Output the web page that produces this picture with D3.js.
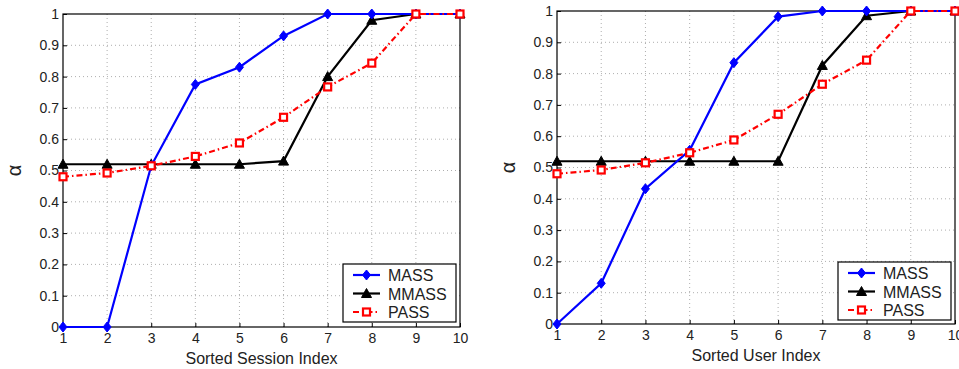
<!DOCTYPE html>
<html>
<head>
<meta charset="utf-8">
<script src="https://cdn.jsdelivr.net/npm/d3@7"></script>
<style>
  body { margin: 0; background: #fff; }
  svg { display: block; font-family: "Liberation Sans", Arial, sans-serif; }
</style>
</head>
<body>
<svg id="chart" width="959" height="369"></svg>
<script>
// x positions 1..10
var indexes = [1, 2, 3, 4, 5, 6, 7, 8, 9, 10];
var yTicks = [0, 0.1, 0.2, 0.3, 0.4, 0.5, 0.6, 0.7, 0.8, 0.9, 1];
var seriesNames = ["MASS", "MMASS", "PASS"];

// session panel
var sessionMass = [0, 0, 0.515, 0.775, 0.83, 0.93, 1, 1, 1, 1];
var sessionMmass = [0.52, 0.52, 0.52, 0.52, 0.52, 0.53, 0.80, 0.98, 1, 1];
var sessionPass = [0.48, 0.492, 0.515, 0.545, 0.588, 0.67, 0.767, 0.843, 1, 1];

// user panel
var userMass = [0, 0.13, 0.432, 0.555, 0.835, 0.982, 1, 1, 1, 1];
var userMmass = [0.52, 0.52, 0.52, 0.52, 0.52, 0.52, 0.826, 0.985, 1, 1];
var userPass = [0.48, 0.492, 0.515, 0.547, 0.588, 0.67, 0.766, 0.843, 1, 1];

var svg = d3.select("#chart");

var styles = {
  MASS: { color: "#0000ff", dash: null, marker: "diamond" },
  MMASS: { color: "#000000", dash: null, marker: "triangle" },
  PASS: { color: "#ff0000", dash: "6,3,1.5,3", marker: "square" }
};

function drawMarker(g, type, color, x, y) {
  if (type === "diamond") {
    g.append("path")
      .attr("d", "M" + x + "," + (y - 5) + "L" + (x + 4) + "," + y + "L" + x + "," + (y + 5) + "L" + (x - 4) + "," + y + "Z")
      .attr("fill", color).attr("stroke", color).attr("stroke-width", 1);
  } else if (type === "triangle") {
    g.append("path")
      .attr("d", "M" + x + "," + (y - 5) + "L" + (x + 5) + "," + (y + 4) + "L" + (x - 5) + "," + (y + 4) + "Z")
      .attr("fill", color).attr("stroke", color).attr("stroke-width", 1);
  } else {
    g.append("rect")
      .attr("x", x - 3.5).attr("y", y - 3.5).attr("width", 7).attr("height", 7)
      .attr("fill", "#fff").attr("stroke", color).attr("stroke-width", 2.2);
  }
}

function panel(opts) {
  var x = d3.scaleLinear().domain([1, 10]).range([opts.left, opts.right]);
  var y = d3.scaleLinear().domain([0, 1]).range([opts.bottom, opts.top]);
  var g = svg.append("g");

  // grid
  g.append("g").selectAll("line.vg").data(indexes.slice(1, -1)).enter().append("line")
    .attr("x1", function (d) { return x(d); }).attr("x2", function (d) { return x(d); })
    .attr("y1", opts.top).attr("y2", opts.bottom)
    .attr("stroke", "#999").attr("stroke-width", 0.8).attr("stroke-dasharray", "1,3");
  g.append("g").selectAll("line.hg").data(yTicks.slice(1, -1)).enter().append("line")
    .attr("y1", function (d) { return y(d); }).attr("y2", function (d) { return y(d); })
    .attr("x1", opts.left).attr("x2", opts.right)
    .attr("stroke", "#999").attr("stroke-width", 0.8).attr("stroke-dasharray", "1,3");

  // axes
  var xAxis = g.append("g").attr("transform", "translate(0," + opts.bottom + ")")
    .call(d3.axisBottom(x).tickValues(indexes).tickFormat(d3.format("d")).tickSizeInner(-4).tickSizeOuter(0).tickPadding(8));
  var yAxis = g.append("g").attr("transform", "translate(" + opts.left + ",0)")
    .call(d3.axisLeft(y).tickValues(yTicks).tickFormat(function (d) { return d === 0 || d === 1 ? d : d3.format(".1f")(d); }).tickSizeInner(-4).tickSizeOuter(0).tickPadding(4));
  [xAxis, yAxis].forEach(function (a) {
    a.select(".domain").remove();
    a.selectAll("line").attr("stroke", "#000");
    a.selectAll("text").attr("font-size", 14).attr("fill", "#222").attr("font-family", "Liberation Sans, Arial, sans-serif");
  });
  xAxis.selectAll("text").attr("dy", "0.55em");

  // box
  g.append("rect").attr("x", opts.left).attr("y", opts.top)
    .attr("width", opts.right - opts.left).attr("height", opts.bottom - opts.top)
    .attr("fill", "none").attr("stroke", "#000").attr("stroke-width", 1.2);

  // series
  var line = d3.line().x(function (d, i) { return x(indexes[i]); }).y(function (d) { return y(d); });
  var data = [opts.mmass, opts.mass, opts.pass];
  var names = ["MMASS", "MASS", "PASS"];
  names.forEach(function (name, k) {
    var s = styles[name];
    g.append("path").datum(data[k]).attr("d", line)
      .attr("fill", "none").attr("stroke", s.color).attr("stroke-width", 2.2)
      .attr("stroke-dasharray", s.dash);
    data[k].forEach(function (v, i) { drawMarker(g, s.marker, s.color, x(indexes[i]), y(v)); });
  });

  // labels
  g.append("text").attr("x", (opts.left + opts.right) / 2).attr("y", opts.bottom + 37)
    .attr("text-anchor", "middle").attr("font-size", 16).attr("fill", "#222").text(opts.xlabel);
  g.append("text").attr("transform", "translate(" + (opts.left - 42) + "," + ((opts.top + opts.bottom) / 2) + ") rotate(-90)")
    .attr("text-anchor", "middle").attr("font-size", 20).attr("fill", "#222").text("α");

  // legend
  var lg = g.append("g");
  lg.append("rect").attr("x", opts.legX).attr("y", opts.legY).attr("width", 113).attr("height", 58)
    .attr("fill", "#fff").attr("stroke", "#000").attr("stroke-width", 1.2);
  seriesNames.forEach(function (name, i) {
    var s = styles[name];
    var ly = opts.legY + 11 + i * 18.5;
    lg.append("line").attr("x1", opts.legX + 10).attr("x2", opts.legX + 37).attr("y1", ly).attr("y2", ly)
      .attr("stroke", s.color).attr("stroke-width", 2.2).attr("stroke-dasharray", s.dash);
    drawMarker(lg, s.marker, s.color, opts.legX + 23.5, ly);
    lg.append("text").attr("x", opts.legX + 45).attr("y", ly + 6).attr("font-size", 16)
      .attr("fill", "#222").text(name);
  });
}

panel({ left: 63, right: 460, top: 14, bottom: 327, xlabel: "Sorted Session Index",
  mass: sessionMass, mmass: sessionMmass, pass: sessionPass, legX: 343, legY: 264 });
panel({ left: 557, right: 955, top: 11, bottom: 324, xlabel: "Sorted User Index",
  mass: userMass, mmass: userMmass, pass: userPass, legX: 838, legY: 262 });
</script>
</body>
</html>
